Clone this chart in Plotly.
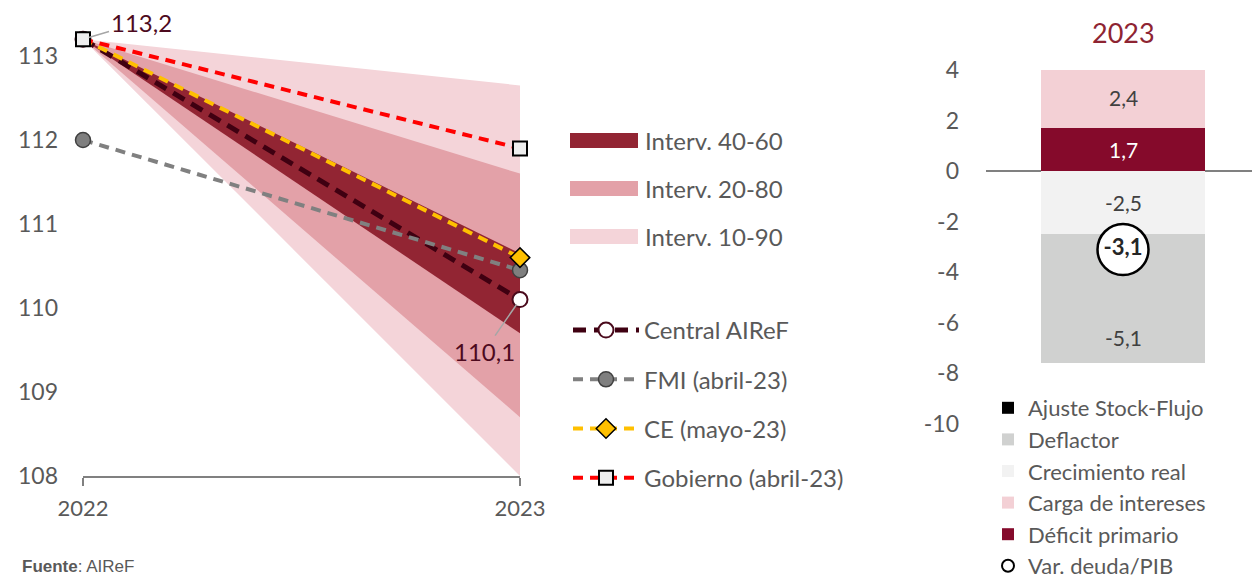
import plotly.graph_objects as go

# ---------------- data ----------------
years = [2022, 2023]
central_airef = [113.2, 110.1]
fmi = [112.0, 110.45]
ce = [113.2, 110.6]
gobierno = [113.2, 111.9]

fan_names = ["Interv. 10-90", "Interv. 20-80", "Interv. 40-60"]
fan_start = 113.2
fan_upper_2023 = [112.65, 111.6, 110.65]
fan_lower_2023 = [108.0, 108.7, 109.7]

bar_year = ["2023"]
components = ["Déficit primario", "Carga de intereses", "Crecimiento real", "Deflactor", "Ajuste Stock-Flujo"]
component_values = [1.7, 2.4, -2.5, -5.1, 0.4]
var_deuda = -3.1

left_yticks = [108, 109, 110, 111, 112, 113]
right_yticks = [4, 2, 0, -2, -4, -6, -8, -10]

# ---------------- style ----------------
FONT = "Lato"
TXT = "#595959"
fan_colors = ["#F4D4D9", "#E3A1A8", "#922533"]
comp_colors = ["#850A2B", "#F3D0D5", "#F2F2F2", "#D0D1D0", "#000000"]
comp_text_colors = ["#FFFFFF", "#404040", "#404040", "#404040", "#404040"]

# the page body adds an 8px offset, so the figure is 8px smaller than the window
OFF = 8
W, H = 1260 - OFF, 578 - OFF


def px_x(a):
    return (a - OFF) / W


def px_y(b):
    return (H - (b - OFF)) / H


def fmt(v):
    return ("%.1f" % v).replace(".", ",")


fig = go.Figure()
shapes = []
annotations = []

# fans (drawn widest first)
fan_legend_y = {"Interv. 40-60": 140.5, "Interv. 20-80": 188.5, "Interv. 10-90": 236.5}
for i, name in enumerate(fan_names):
    fig.add_trace(go.Scatter(
        x=[years[0], years[1], years[1], years[0]],
        y=[fan_start, fan_upper_2023[i], fan_lower_2023[i], fan_start],
        fill="toself", fillcolor=fan_colors[i], mode="lines", line=dict(width=0),
        name=name, hoverinfo="skip", showlegend=False, xaxis="x", yaxis="y"))
    yc = fan_legend_y[name]
    shapes.append(dict(type="rect", xref="paper", yref="paper",
                       x0=px_x(570), x1=px_x(638), y0=px_y(yc + 7.5), y1=px_y(yc - 7.5),
                       fillcolor=fan_colors[i], line=dict(width=0)))
    annotations.append(dict(x=px_x(643), y=px_y(yc), xref="paper", yref="paper",
                            xanchor="left", yanchor="middle", text=name, showarrow=False,
                            font=dict(size=24, color=TXT, family=FONT)))

# lines
fig.add_trace(go.Scatter(
    x=years, y=central_airef, name="Central AIReF", mode="lines+markers",
    line=dict(color="#3F0011", width=5, dash="13px,8px"),
    marker=dict(symbol="circle", size=15, color="#FFFFFF", line=dict(color="#4A0A1C", width=2)),
    legend="legend2", legendgroup="l1", legendrank=1, cliponaxis=False, xaxis="x", yaxis="y"))
fig.add_trace(go.Scatter(
    x=years, y=fmi, name="FMI (abril-23)", mode="lines+markers",
    line=dict(color="#808080", width=4, dash="10px,7px"),
    marker=dict(symbol="circle", size=15, color="#7F7F7F", line=dict(color="#404040", width=1.5)),
    legend="legend2", legendgroup="l2", legendrank=2, cliponaxis=False, xaxis="x", yaxis="y"))
fig.add_trace(go.Scatter(
    x=years, y=ce, mode="lines",
    line=dict(color="#FFC000", width=4, dash="10px,7px"),
    showlegend=False, cliponaxis=False, xaxis="x", yaxis="y"))
fig.add_trace(go.Scatter(
    x=years[1:], y=ce[1:], name="CE (mayo-23)", mode="markers",
    marker=dict(symbol="diamond", size=15, color="#FFC000", line=dict(color="#000000", width=1.5)),
    showlegend=False, cliponaxis=False, xaxis="x", yaxis="y"))
fig.add_trace(go.Scatter(
    x=[None], y=[None], name="CE (mayo-23)", mode="lines+markers",
    line=dict(color="#FFC000", width=4, dash="10px,7px"),
    marker=dict(symbol="diamond", size=15, color="#FFC000", line=dict(color="#000000", width=1.5)),
    legend="legend2", legendgroup="l3", legendrank=3, xaxis="x", yaxis="y"))
fig.add_trace(go.Scatter(
    x=years, y=gobierno, name="Gobierno (abril-23)", mode="lines+markers",
    line=dict(color="#FF0000", width=4, dash="10px,7px"),
    marker=dict(symbol="square", size=14, color="#EEEEEE", line=dict(color="#000000", width=2)),
    legend="legend2", legendgroup="l4", legendrank=4, cliponaxis=False, xaxis="x", yaxis="y"))

# right: stacked bar
legend_ranks = {"Ajuste Stock-Flujo": 1, "Deflactor": 2, "Crecimiento real": 3,
                "Carga de intereses": 4, "Déficit primario": 5}
pos_base, neg_base = 0.0, 0.0
for i, comp in enumerate(components):
    v = component_values[i]
    fig.add_trace(go.Bar(
        x=bar_year, y=[v], name=comp, marker=dict(color=comp_colors[i], line=dict(width=0)),
        width=0.595, hoverinfo="name+y",
        legend="legend3", legendrank=legend_ranks[comp], xaxis="x2", yaxis="y2"))
    if v >= 0:
        start = pos_base
        pos_base += v
    else:
        start = neg_base
        neg_base += v
    if comp == "Ajuste Stock-Flujo":
        continue
    if comp == "Deflactor":
        ylab = start + v * 0.8   # label placed low in the segment, as in the source
    else:
        ylab = start + v / 2
    annotations.append(dict(x=0, y=ylab, xref="x2", yref="y2", text=fmt(v),
                            showarrow=False, font=dict(size=21, color=comp_text_colors[i], family=FONT)))

fig.add_trace(go.Scatter(
    x=bar_year, y=[var_deuda], name="Var. deuda/PIB", mode="markers",
    marker=dict(symbol="circle", size=51, color="#FFFFFF", line=dict(color="#000000", width=2.5)),
    legend="legend3", legendrank=6, cliponaxis=False, xaxis="x2", yaxis="y2"))
fig.add_trace(go.Scatter(
    x=bar_year, y=[var_deuda], mode="text", text=[fmt(var_deuda)],
    textfont=dict(family=FONT, size=22, color="#262626", weight="bold"),
    showlegend=False, cliponaxis=False, xaxis="x2", yaxis="y2"))

annotations += [
    dict(x=2022, y=central_airef[0], xref="x", yref="y", text="113,2",
         showarrow=True, arrowhead=0, arrowcolor="#A6A6A6", arrowwidth=1.5,
         ax=58, ay=-17, standoff=6, font=dict(size=24, color="#4D0A1E")),
    dict(x=2023, y=central_airef[1], xref="x", yref="y", text="110,1",
         showarrow=True, arrowhead=0, arrowcolor="#A6A6A6", arrowwidth=1.5,
         ax=-36, ay=52, standoff=6, font=dict(size=24, color="#4D0A1E")),
    dict(x=px_x(1123), y=px_y(32), xref="paper", yref="paper", text="2023",
         xanchor="center", yanchor="middle",
         showarrow=False, font=dict(size=27, color="#8E2432")),
    dict(x=px_x(20), y=px_y(566), xref="paper", yref="paper", xanchor="left", yanchor="middle",
         text="<b>Fuente</b>: AIReF", showarrow=False,
         font=dict(family="Arial", size=17, color=TXT)),
]

fig.update_layout(
    width=W, height=H, margin=dict(l=0, r=0, t=0, b=0, autoexpand=False),
    paper_bgcolor="#FFFFFF", plot_bgcolor="rgba(0,0,0,0)",
    font=dict(family=FONT, color=TXT, size=23),
    barmode="relative", bargap=0,
    xaxis=dict(domain=[px_x(83), px_x(520)], range=[2022, 2023], anchor="y",
               tickvals=years, ticktext=[str(y) for y in years],
               showline=True, linecolor="#808080", linewidth=1.5,
               ticks="outside", ticklen=8, tickwidth=1.5, tickcolor="#808080",
               showgrid=False, zeroline=False, ticklabelstandoff=4,
               tickfont=dict(size=22, color=TXT)),
    yaxis=dict(domain=[px_y(476), px_y(14)], range=[108, 113.5], anchor="x",
               tickvals=left_yticks, ticktext=[str(v) for v in left_yticks],
               showgrid=False, zeroline=False, showline=False,
               ticklabelstandoff=24, tickfont=dict(size=23, color=TXT)),
    xaxis2=dict(domain=[px_x(986), 1], range=[-0.5, 0.5], type="category", anchor="y2",
                showticklabels=False, showgrid=False, zeroline=False, showline=False),
    yaxis2=dict(domain=[px_y(424), px_y(70)], range=[-10, 4], anchor="x2",
                tickvals=right_yticks, ticktext=[str(v) for v in right_yticks],
                showgrid=False, zeroline=True, zerolinecolor="#808080", zerolinewidth=1.5,
                showline=False, ticklabelstandoff=26, tickfont=dict(size=23, color=TXT)),
    legend2=dict(x=px_x(568), y=px_y(308), xanchor="left", yanchor="top",
                 bgcolor="rgba(0,0,0,0)", font=dict(size=24, color=TXT, family=FONT),
                 itemwidth=66, traceorder="grouped", tracegroupgap=15),
    legend3=dict(x=px_x(988), y=px_y(387), xanchor="left", yanchor="top",
                 bgcolor="rgba(0,0,0,0)", font=dict(size=22, color=TXT, family=FONT),
                 itemwidth=30, itemsizing="constant", traceorder="normal"),
    shapes=shapes,
    annotations=annotations,
)

fig.write_html("out.html")
